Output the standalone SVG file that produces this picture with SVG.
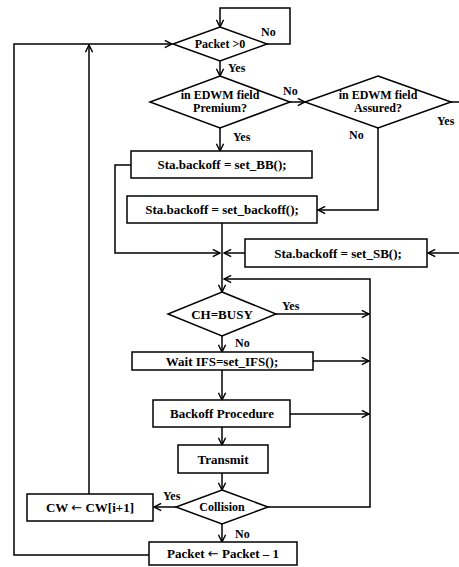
<svg xmlns="http://www.w3.org/2000/svg" width="459" height="567" viewBox="0 0 459 567">
<defs>
<marker id="arr" viewBox="0 0 10 10" refX="9" refY="5" markerWidth="9" markerHeight="9" markerUnits="userSpaceOnUse" orient="auto">
<path d="M1,1 L9,5 L1,9" fill="none" stroke="#000" stroke-width="1.6"/>
</marker>
</defs>
<style>
.s{fill:#fff;stroke:#000;stroke-width:1.5}
.c{fill:none;stroke:#000;stroke-width:1.5}
.t{font-family:"Liberation Serif",serif;font-size:13px;font-weight:bold;fill:#000;text-anchor:middle}
.d{font-family:"Liberation Serif",serif;font-size:12px;font-weight:bold;fill:#000;text-anchor:middle}
.l{font-family:"Liberation Serif",serif;font-size:12px;font-weight:bold;fill:#000}
.a{font-family:"DejaVu Sans",sans-serif;font-weight:normal}
</style>
<rect width="459" height="567" fill="#fff"/>
<g id="connectors">
<path class="c" d="M267,44 H290 V8 H220 V27" marker-end="url(#arr)"/>
<path class="c" d="M220,61 V76" marker-end="url(#arr)"/>
<path class="c" d="M290,102 H305" marker-end="url(#arr)"/>
<path class="c" d="M220,128 V151" marker-end="url(#arr)"/>
<path class="c" d="M378,128 V210 H318" marker-end="url(#arr)"/>
<path class="c" d="M451,102 H459"/>
<path class="c" d="M131,165 H115 V253 H220" marker-end="url(#arr)"/>
<path class="c" d="M222,223 V292" marker-end="url(#arr)"/>
<path class="c" d="M245,253 H224" marker-end="url(#arr)"/>
<path class="c" d="M459,253 H428" marker-end="url(#arr)"/>
<path class="c" d="M268,507 H370 V279 H224" marker-end="url(#arr)"/>
<path class="c" d="M276,314 H369" marker-end="url(#arr)"/>
<path class="c" d="M222,336 V352" marker-end="url(#arr)"/>
<path class="c" d="M313,361 H369" marker-end="url(#arr)"/>
<path class="c" d="M222,370 V400" marker-end="url(#arr)"/>
<path class="c" d="M290,414 H369" marker-end="url(#arr)"/>
<path class="c" d="M222,427 V445" marker-end="url(#arr)"/>
<path class="c" d="M222,473 V490" marker-end="url(#arr)"/>
<path class="c" d="M176,507 H154" marker-end="url(#arr)"/>
<path class="c" d="M89,494 V45" marker-end="url(#arr)"/>
<path class="c" d="M222,524 V542" marker-end="url(#arr)"/>
<path class="c" d="M149,555 H14 V44 H172" marker-end="url(#arr)"/>
<text class="l" x="261" y="36">No</text>
<text class="l" x="228" y="72">Yes</text>
<text class="l" x="283" y="95">No</text>
<text class="l" x="233" y="141">Yes</text>
<text class="l" x="349" y="139">No</text>
<text class="l" x="437" y="125">Yes</text>
<text class="l" x="282" y="310">Yes</text>
<text class="l" x="235" y="347">No</text>
<text class="l" x="163" y="500">Yes</text>
<text class="l" x="235" y="538">No</text>
</g>
<g id="packet-check">
<polygon class="s" points="220,27 267,44 220,61 173,44"/>
<text class="d" x="220" y="48">Packet &gt;0</text>
</g>
<g id="premium">
<polygon class="s" points="220,76 290,102 220,128 150,102"/>
<text class="d" x="220" y="99">in EDWM field</text>
<text class="d" x="220" y="112">Premium?</text>
</g>
<g id="assured">
<polygon class="s" points="378,76 451,102 378,128 305,102"/>
<text class="d" x="378" y="99">in EDWM field</text>
<text class="d" x="378" y="112">Assured?</text>
</g>
<g id="set-bb">
<rect class="s" x="131" y="151" width="181" height="27"/>
<text class="t" x="222" y="169">Sta.backoff = set_BB();</text>
</g>
<g id="set-backoff">
<rect class="s" x="127" y="196" width="190" height="27"/>
<text class="t" x="222" y="214">Sta.backoff = set_backoff();</text>
</g>
<g id="set-sb">
<rect class="s" x="245" y="239" width="182" height="28"/>
<text class="t" x="338" y="258">Sta.backoff = set_SB();</text>
</g>
<g id="ch-busy">
<polygon class="s" points="222,292 276,314 222,336 168,314"/>
<text class="t" x="222" y="319">CH=BUSY</text>
</g>
<g id="wait-ifs">
<rect class="s" x="132" y="352" width="181" height="18"/>
<text class="t" x="222" y="366">Wait IFS=set_IFS();</text>
</g>
<g id="backoff-procedure">
<rect class="s" x="153" y="400" width="137" height="27"/>
<text class="t" x="222" y="418">Backoff Procedure</text>
</g>
<g id="transmit">
<rect class="s" x="178" y="445" width="90" height="28"/>
<text class="t" x="223" y="464">Transmit</text>
</g>
<g id="collision">
<polygon class="s" points="222,490 268,507 222,524 176,507"/>
<text class="d" x="222" y="511">Collision</text>
</g>
<g id="cw">
<rect class="s" x="27" y="494" width="126" height="27"/>
<text class="t" x="90" y="512">CW <tspan class="a">←</tspan> CW[i+1]</text>
</g>
<g id="packet-decrement">
<rect class="s" x="149" y="542" width="148" height="23"/>
<text class="t" x="223" y="558">Packet <tspan class="a">←</tspan> Packet – 1</text>
</g>
</svg>
